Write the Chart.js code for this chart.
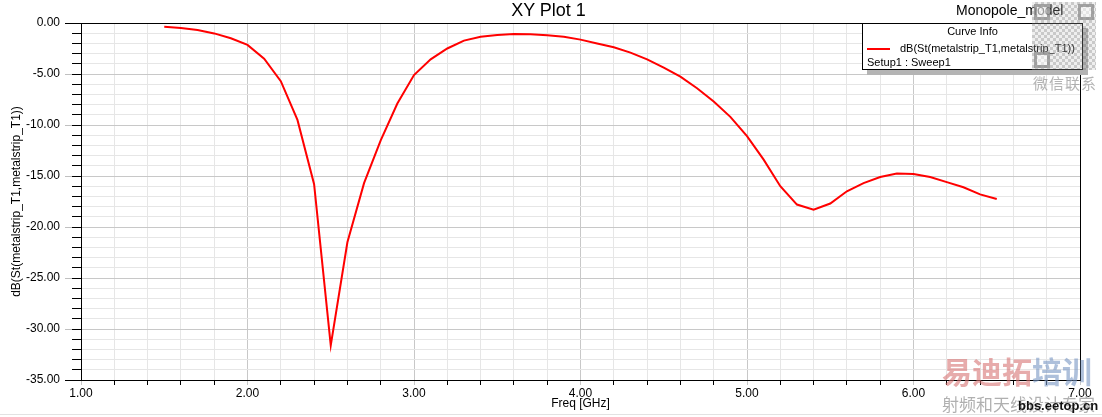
<!DOCTYPE html>
<html>
<head>
<meta charset="utf-8">
<script src="https://cdn.jsdelivr.net/npm/chart.js@4.4.1/dist/chart.umd.min.js"></script>
<style>
    body { margin: 0; background: #fff; }
    #wrap { position: relative; width: 1102px; height: 417px; overflow: hidden; font-family: 'Liberation Sans', Arial, sans-serif; }
    #plot { position: absolute; left: 0; top: 0; }
    .txt { position: absolute; white-space: nowrap; line-height: 1; }
    #title { left: 0; width: 1097px; top: 1px; text-align: center; font-size: 18px; color: #000; }
    #model { left: 956px; top: 3px; font-size: 14px; color: #000; }
    #curveInfo { position: absolute; left: 862px; top: 23px; width: 221px; height: 47px; box-sizing: border-box;
        border: 1px solid #000; background: #fff; box-shadow: 5px 5px 0 #b4b4b4; font-size: 11px; }
    #curveInfo .head { position: absolute; left: 0; width: 100%; top: 2px; text-align: center; }
    #curveInfo .swatch { position: absolute; left: 4px; top: 24px; width: 23px; height: 2px; background: #ff0000; }
    #curveInfo .name { position: absolute; left: 37px; top: 19px; }
    #curveInfo .setup { position: absolute; left: 4px; top: 33px; }
    #qr { position: absolute; left: 1032px; top: 2px; width: 64px; height: 68px;
        background: repeating-conic-gradient(rgba(120,120,120,0.4) 0 25%, rgba(190,190,190,0.25) 0 50%) 0 0 / 6px 6px; }
    #qr i { position: absolute; width: 10px; height: 10px; border: 3px solid rgba(110,110,110,0.6); background: rgba(255,255,255,0.5); }
    #wx { left: 1033px; top: 75px; font-size: 15px; color: rgba(160,160,160,0.8); letter-spacing: 1px; font-family: 'Noto Sans CJK SC', sans-serif; }
    #brand { left: 942px; top: 355px; font-size: 30px; font-weight: bold; font-family: 'Noto Sans CJK SC', sans-serif; }
    #slogan { left: 942px; top: 395px; font-size: 17px; color: rgba(150,150,150,0.75); font-family: 'Noto Sans CJK SC', sans-serif; }
    #site { left: 1018px; top: 399px; font-size: 13px; font-weight: bold; color: #111; }
    #edge { position: absolute; left: 0; top: 414px; width: 1102px; height: 1px; background: #e2e2e2; }
</style>
</head>
<body>
<div id="wrap">
    <canvas id="plot" width="1102" height="417"></canvas>
    <div id="edge"></div>
    <div class="txt" id="title">XY Plot 1</div>
    <div class="txt" id="model">Monopole_model</div>
    <div id="curveInfo">
        <div class="txt head">Curve Info</div>
        <div class="swatch"></div>
        <div class="txt name">dB(St(metalstrip_T1,metalstrip_T1))</div>
        <div class="txt setup">Setup1 : Sweep1</div>
    </div>
    <div id="qr"><i style="left:2px;top:2px"></i><i style="left:46px;top:2px"></i><i style="left:2px;top:50px"></i></div>
    <div class="txt" id="wx">微信联系</div>
    <div class="txt" id="brand"><span style="color:rgba(215,115,115,0.6)">易迪拓</span><span style="color:rgba(120,150,195,0.6)">培训</span></div>
    <div class="txt" id="slogan">射频和天线设计专家</div>
    <div class="txt" id="site">bbs.eetop.cn</div>
</div>
<script>
// S11 sweep
const freqGHz = [1.5, 1.6, 1.7, 1.8, 1.9, 2.0, 2.1, 2.2, 2.3, 2.4,
    2.5, 2.6, 2.7, 2.8, 2.9, 3.0, 3.1, 3.2, 3.3, 3.4,
    3.5, 3.6, 3.7, 3.8, 3.9, 4.0, 4.1, 4.2, 4.3, 4.4,
    4.5, 4.6, 4.7, 4.8, 4.9, 5.0, 5.1, 5.2, 5.3, 5.4,
    5.5, 5.6, 5.7, 5.8, 5.9, 6.0, 6.1, 6.2, 6.3, 6.4, 6.5];
const s11dB = [-0.36, -0.48, -0.68, -1.02, -1.5, -2.15, -3.5, -5.7, -9.5, -15.8,
    -31.6, -21.5, -15.7, -11.5, -7.9, -5.1, -3.56, -2.5, -1.73, -1.34,
    -1.18, -1.08, -1.11, -1.21, -1.34, -1.63, -2.0, -2.38, -2.9, -3.56,
    -4.38, -5.26, -6.4, -7.7, -9.2, -11.1, -13.4, -16.0, -17.8, -18.3,
    -17.7, -16.5, -15.7, -15.1, -14.75, -14.8, -15.1, -15.6, -16.1, -16.8, -17.25];
const xRange = [1, 7];
const yRange = [-35, 0];
const curveName = 'dB(St(metalstrip_T1,metalstrip_T1))';

const isWhole = (v, step) => Math.abs(v / step - Math.round(v / step)) < 1e-6;

// top/right frame + longer major ticks on the dB axis
const framePlugin = {
    id: 'frame',
    afterDraw(chart) {
        const { ctx, chartArea: a, scales } = chart;
        ctx.save();
        ctx.lineWidth = 1;
        ctx.strokeStyle = '#000';
        ctx.beginPath();
        ctx.moveTo(a.left, a.top + 0.5);
        ctx.lineTo(a.right + 0.5, a.top + 0.5);
        ctx.lineTo(a.right + 0.5, a.bottom);
        ctx.stroke();
        for (let v = yRange[0]; v <= yRange[1]; v += 5) {
            const y = Math.round(scales.y.getPixelForValue(v)) + 0.5;
            ctx.strokeStyle = (v === yRange[0] || v === yRange[1]) ? '#000' : '#c0c0c0';
            ctx.beginPath();
            ctx.moveTo(a.left - 16, y);
            ctx.lineTo(a.left - 9, y);
            ctx.stroke();
        }
        ctx.restore();
    }
};

new Chart(document.getElementById('plot'), {
    type: 'line',
    data: {
        datasets: [{
            label: curveName,
            data: freqGHz.map((f, i) => ({ x: f, y: s11dB[i] })),
            borderColor: '#ff0000',
            borderWidth: 2,
            pointRadius: 0,
            tension: 0,
            fill: false
        }]
    },
    options: {
        responsive: false,
        animation: false,
        devicePixelRatio: 1,
        layout: { padding: { left: 0, right: 22, top: 23, bottom: 0 } },
        plugins: { legend: { display: false }, title: { display: false }, tooltip: { enabled: false } },
        scales: {
            x: {
                type: 'linear',
                min: xRange[0],
                max: xRange[1],
                afterFit: (s) => { s.height = 37; },
                border: { display: true, color: '#000', width: 1 },
                grid: {
                    color: (c) => isWhole(c.tick.value, 1) ? '#c8c8c8' : '#e6e6e6',
                    tickColor: (c) => isWhole(c.tick.value, 1) ? '#c8c8c8' : '#000',
                    tickLength: 5
                },
                ticks: {
                    stepSize: 0.2,
                    autoSkip: false,
                    maxRotation: 0,
                    padding: 1,
                    color: '#000',
                    font: { family: 'Liberation Sans', size: 12 },
                    callback: (v) => isWhole(v, 1) ? v.toFixed(2) : ''
                },
                title: {
                    display: true,
                    text: 'Freq [GHz]',
                    color: '#000',
                    font: { family: 'Liberation Sans', size: 12 },
                    padding: { top: 0, bottom: 6 }
                }
            },
            y: {
                min: yRange[0],
                max: yRange[1],
                afterFit: (s) => { s.width = 81; },
                border: { display: true, color: '#000', width: 1 },
                grid: {
                    color: (c) => isWhole(c.tick.value, 5) ? '#c8c8c8' : '#e6e6e6',
                    tickColor: '#000',
                    tickLength: 9
                },
                ticks: {
                    stepSize: 1,
                    autoSkip: false,
                    padding: 12,
                    color: '#000',
                    font: { family: 'Liberation Sans', size: 12 },
                    callback: (v) => isWhole(v, 5) ? v.toFixed(2) : ''
                },
                title: {
                    display: true,
                    text: curveName,
                    color: '#000',
                    font: { family: 'Liberation Sans', size: 12 },
                    padding: { top: 9, bottom: 0 }
                }
            }
        }
    },
    plugins: [framePlugin]
});
</script>
</body>
</html>
